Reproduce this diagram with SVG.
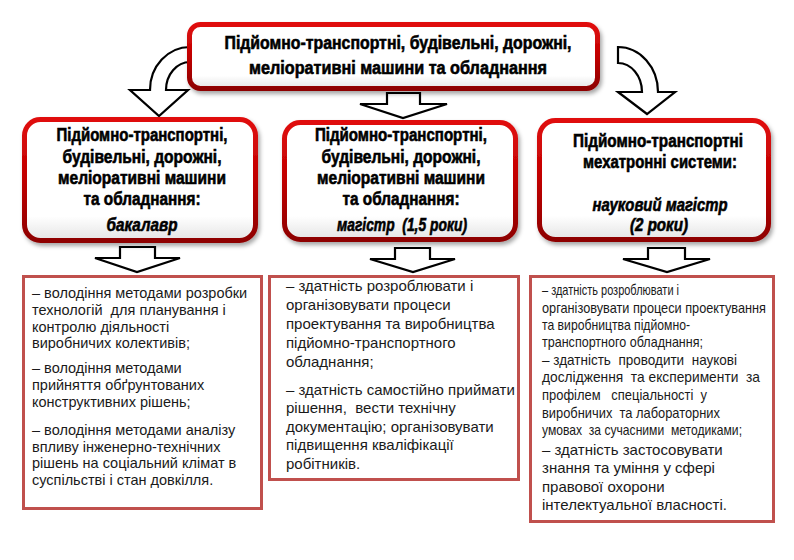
<svg xmlns="http://www.w3.org/2000/svg" width="794" height="560" viewBox="0 0 794 560">
<style>
.hb{fill:#ffffff;stroke:url(#redg);stroke-width:5}
.hd{font-family:"Liberation Sans Narrow","Liberation Sans",Arial,sans-serif;font-weight:bold;font-size:18px;fill:#000;stroke:#000;stroke-width:0.6;text-anchor:middle}
.it{font-style:italic}
.lb{fill:#fff;stroke:#C0504D;stroke-width:3}
.tx{font-family:"Liberation Sans",Arial,sans-serif;font-size:14.5px;fill:#1a1a1a}
.tm{font-size:15px}
.cn{font-family:"Liberation Sans Narrow","Liberation Sans",Arial,sans-serif}
.ar{fill:#fff;stroke:#000;stroke-width:2.2;stroke-linejoin:miter}
</style>
<defs>
<linearGradient id="redg" x1="0" y1="0" x2="0" y2="1">
<stop offset="0" stop-color="#E01010"/>
<stop offset="0.5" stop-color="#C00000"/>
<stop offset="1" stop-color="#8E0000"/>
</linearGradient>
<linearGradient id="fillg" x1="0" y1="0" x2="0" y2="1">
<stop offset="0" stop-color="#ffffff"/>
<stop offset="0.8" stop-color="#ffffff"/>
<stop offset="1" stop-color="#e4e4e4"/>
</linearGradient>
<filter id="sh" x="-10%" y="-10%" width="125%" height="130%">
<feGaussianBlur in="SourceAlpha" stdDeviation="2"/>
<feOffset dx="2" dy="3" result="b"/>
<feFlood flood-color="#000" flood-opacity="0.35"/>
<feComposite in2="b" operator="in"/>
<feMerge><feMergeNode/><feMergeNode in="SourceGraphic"/></feMerge>
</filter>
</defs>

<g id="connectors">
<path class="ar" d="M190,47 A40,43 0 0 0 150,90 L130,90 L159,116 L188,90 L166,90 A24,28 0 0 1 190,62 Z"/>
<path class="ar" d="M618,47 A40,45 0 0 1 658,92 L675,92 L647,114 L618,92 L642,92 A24,29 0 0 0 618,63 Z"/>
<path class="ar" d="M387,93 L420,93 L420,104 L447,104 L403,118 L360,104 L387,104 Z"/>
<path class="ar" d="M120,247 L155,247 L155,258 L180,258 L137,272 L95,258 L120,258 Z"/>
<path class="ar" d="M395,248 L430,248 L430,259 L455,259 L413,272 L370,259 L395,259 Z"/>
<path class="ar" d="M648,248 L685,248 L685,259 L710,259 L667,272 L623,259 L648,259 Z"/>
</g>

<g id="top">
<rect class="hb" x="189.5" y="24.5" width="408" height="64" rx="11" filter="url(#sh)" style="fill:url(#fillg)"/>
<text class="hd" x="398" y="49" font-size="19" textLength="347" lengthAdjust="spacingAndGlyphs">Підйомно-транспортні, будівельні, дорожні,</text>
<text class="hd" x="398" y="74" font-size="19" textLength="298" lengthAdjust="spacingAndGlyphs">меліоративні машини та обладнання</text>
</g>

<g id="bachelor">
<rect class="hb" x="24.5" y="119.5" width="231" height="121" rx="16" filter="url(#sh)" style="fill:url(#fillg)"/>
<text class="hd" x="142" y="141" textLength="171" lengthAdjust="spacingAndGlyphs">Підйомно-транспортні,</text>
<text class="hd" x="142" y="163" textLength="159" lengthAdjust="spacingAndGlyphs">будівельні, дорожні,</text>
<text class="hd" x="142" y="184" textLength="168" lengthAdjust="spacingAndGlyphs">меліоративні машини</text>
<text class="hd" x="142" y="205" textLength="117" lengthAdjust="spacingAndGlyphs">та обладнання:</text>
<text class="hd it" x="142" y="231" textLength="71" lengthAdjust="spacingAndGlyphs">бакалавр</text>
</g>

<g id="master">
<rect class="hb" x="284.5" y="122.5" width="231" height="117" rx="16" filter="url(#sh)" style="fill:url(#fillg)"/>
<text class="hd" x="401" y="141" textLength="172" lengthAdjust="spacingAndGlyphs">Підйомно-транспортні,</text>
<text class="hd" x="401" y="163" textLength="159" lengthAdjust="spacingAndGlyphs">будівельні, дорожні,</text>
<text class="hd" x="401" y="184" textLength="168" lengthAdjust="spacingAndGlyphs">меліоративні машини</text>
<text class="hd" x="401" y="205" textLength="117" lengthAdjust="spacingAndGlyphs">та обладнання:</text>
<text class="hd it" x="402" y="231" textLength="130" lengthAdjust="spacingAndGlyphs">магістр&#160; (1,5 роки)</text>
</g>

<g id="science-master">
<rect class="hb" x="539.5" y="120.5" width="229" height="119" rx="16" filter="url(#sh)" style="fill:url(#fillg)"/>
<text class="hd" x="658" y="147" textLength="170" lengthAdjust="spacingAndGlyphs">Підйомно-транспортні</text>
<text class="hd" x="660" y="168" textLength="154" lengthAdjust="spacingAndGlyphs">мехатронні системи:</text>
<text class="hd it" x="660" y="211" textLength="135" lengthAdjust="spacingAndGlyphs">науковий магістр</text>
<text class="hd it" x="659" y="231" textLength="58" lengthAdjust="spacingAndGlyphs">(2 роки)</text>
</g>

<g id="bachelor-skills">
<rect class="lb" x="23.5" y="276.5" width="238" height="232"/>
<text class="tx" x="32" y="298">– володіння методами розробки</text>
<text class="tx" x="32" y="315">технологій&#160; для планування і</text>
<text class="tx" x="32" y="332">контролю діяльності</text>
<text class="tx" x="32" y="348">виробничих колективів;</text>
<text class="tx" x="32" y="373">– володіння методами</text>
<text class="tx" x="32" y="390">прийняття обґрунтованих</text>
<text class="tx" x="32" y="407">конструктивних рішень;</text>
<text class="tx" x="32" y="435">– володіння методами аналізу</text>
<text class="tx" x="32" y="452">впливу інженерно-технічних</text>
<text class="tx" x="32" y="468">рішень на соціальний клімат в</text>
<text class="tx" x="32" y="485">суспільстві і стан довкілля.</text>
</g>

<g id="master-skills">
<rect class="lb" x="269.5" y="276.5" width="249" height="203"/>
<text class="tx tm" x="286" y="291">– здатність розроблювати і</text>
<text class="tx tm" x="286" y="310">організовувати процеси</text>
<text class="tx tm" x="286" y="329">проектування та виробництва</text>
<text class="tx tm" x="286" y="348">підйомно-транспортного</text>
<text class="tx tm" x="286" y="367">обладнання;</text>
<text class="tx tm" x="286" y="395">– здатність самостійно приймати</text>
<text class="tx tm" x="286" y="413">рішення,&#160; вести технічну</text>
<text class="tx tm" x="286" y="432">документацію; організовувати</text>
<text class="tx tm" x="286" y="450">підвищення кваліфікації</text>
<text class="tx tm" x="286" y="469">робітників.</text>
</g>

<g id="science-master-skills">
<rect class="lb" x="530.5" y="276.5" width="243" height="245"/>
<text class="tx cn" x="542" y="295" textLength="137" lengthAdjust="spacingAndGlyphs">– здатність розроблювати і</text>
<text class="tx cn" x="542" y="313" textLength="224" lengthAdjust="spacingAndGlyphs">організовувати процеси проектування</text>
<text class="tx cn" x="542" y="330" textLength="148" lengthAdjust="spacingAndGlyphs">та виробництва підйомно-</text>
<text class="tx cn" x="542" y="347" textLength="161" lengthAdjust="spacingAndGlyphs">транспортного обладнання;</text>
<text class="tx cn" x="542" y="365" textLength="195" lengthAdjust="spacingAndGlyphs">– здатність&#160; проводити&#160; наукові</text>
<text class="tx cn" x="542" y="382" textLength="218" lengthAdjust="spacingAndGlyphs">дослідження&#160; та експерименти&#160; за</text>
<text class="tx cn" x="542" y="400" textLength="165" lengthAdjust="spacingAndGlyphs">профілем&#160;&#160; спеціальності&#160; у</text>
<text class="tx cn" x="542" y="418" textLength="178" lengthAdjust="spacingAndGlyphs">виробничих&#160; та лабораторних</text>
<text class="tx cn" x="542" y="435" textLength="200" lengthAdjust="spacingAndGlyphs">умовах&#160; за сучасними&#160; методиками;</text>
<text class="tx tm" x="542" y="455">– здатність застосовувати</text>
<text class="tx tm" x="542" y="473">знання та уміння у сфері</text>
<text class="tx tm" x="542" y="492">правової охорони</text>
<text class="tx tm" x="542" y="510">інтелектуальної власності.</text>
</g>
</svg>
